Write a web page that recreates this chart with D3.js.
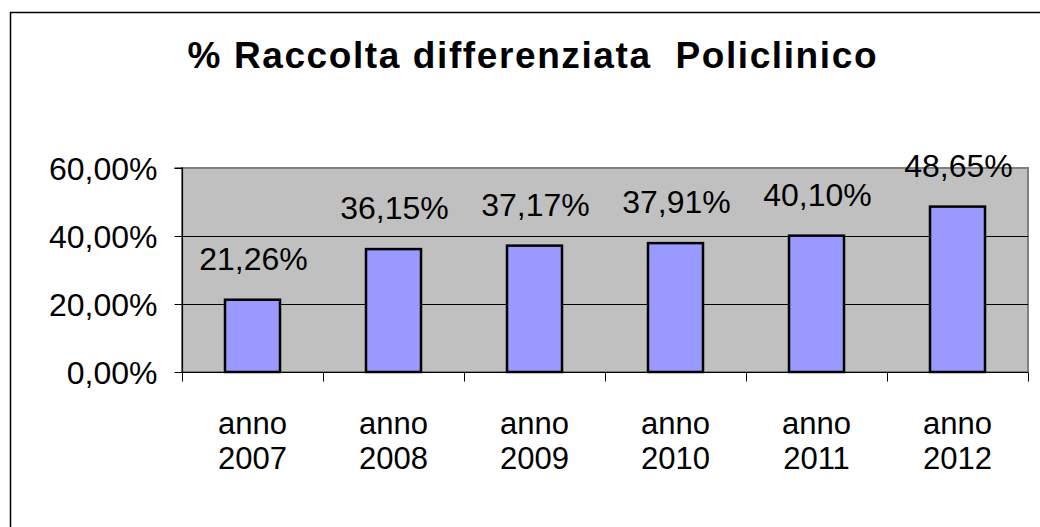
<!DOCTYPE html>
<html>
<head>
<meta charset="utf-8">
<script src="https://cdn.jsdelivr.net/npm/d3@7"></script>
<style>
  html, body { margin: 0; padding: 0; background: #fff; }
  svg { display: block; }
  text { font-family: Arial, "Liberation Sans", sans-serif; fill: #000; }
</style>
</head>
<body>
<svg id="chart" width="1040" height="527"></svg>
<script>
const title = "% Raccolta differenziata  Policlinico";
const categories = [["anno", "2007"], ["anno", "2008"], ["anno", "2009"], ["anno", "2010"], ["anno", "2011"], ["anno", "2012"]];
const values = [21.26, 36.15, 37.17, 37.91, 40.10, 48.65];
const valueLabels = ["21,26%", "36,15%", "37,17%", "37,91%", "40,10%", "48,65%"];
const yTicks = [0, 20, 40, 60];
const yTickLabels = ["0,00%", "20,00%", "40,00%", "60,00%"];

const svg = d3.select("#chart");
const W = 1040, H = 527;
const plot = { left: 182, right: 1028, top: 168, bottom: 372 };

// outer frame
svg.append("rect")
  .attr("x", 10.5).attr("y", 12.5)
  .attr("width", W + 20).attr("height", H + 20)
  .attr("fill", "#fff").attr("stroke", "#000").attr("stroke-width", 1.5);

// title
svg.append("text")
  .attr("x", 532).attr("y", 68)
  .attr("text-anchor", "middle")
  .attr("font-size", 37).attr("font-weight", "bold")
  .style("white-space", "pre")
  .attr("xml:space", "preserve")
  .attr("textLength", 689).attr("lengthAdjust", "spacing")
  .text(title);

const x = d3.scaleBand()
  .domain(d3.range(categories.length))
  .range([plot.left, plot.right])
  .paddingInner(0).paddingOuter(0);
const y = d3.scaleLinear().domain([0, 60]).range([plot.bottom, plot.top]);

// plot area background
svg.append("rect")
  .attr("x", plot.left).attr("y", plot.top)
  .attr("width", plot.right - plot.left).attr("height", plot.bottom - plot.top)
  .attr("fill", "#c0c0c0").attr("stroke", "#808080").attr("stroke-width", 2);

// gridlines
svg.append("g").selectAll("line")
  .data(yTicks.filter(d => d > 0 && d < 60))
  .join("line")
  .attr("x1", plot.left).attr("x2", plot.right)
  .attr("y1", d => Math.round(y(d)) + 0.5).attr("y2", d => Math.round(y(d)) + 0.5)
  .attr("stroke", "#000").attr("stroke-width", 1);

// bars
const bw = 55;
svg.append("g").selectAll("rect")
  .data(values)
  .join("rect")
  .attr("x", (d, i) => x(i) + x.bandwidth() / 2 - bw / 2)
  .attr("y", d => y(d))
  .attr("width", bw)
  .attr("height", d => y(0) - y(d))
  .attr("fill", "#9999ff").attr("stroke", "#000").attr("stroke-width", 2.5);

// y axis
const yAxis = d3.axisLeft(y).tickValues(yTicks).tickSize(8)
  .tickFormat((d, i) => yTickLabels[i]).tickPadding(17);
const gy = svg.append("g").attr("transform", `translate(${plot.left + 0.5},0)`).call(yAxis);
gy.select(".domain").attr("stroke", "#000").attr("stroke-width", 1.2).attr("d", `M-8,${plot.top}H0V${plot.bottom}`);
gy.selectAll(".tick line").attr("stroke", "#000");
gy.selectAll(".tick text")
  .attr("font-size", 32).attr("font-family", "Arial, 'Liberation Sans', sans-serif")
  .attr("fill", "#000").attr("dy", "0.36em");

// x axis
const xAxis = d3.axisBottom(x).tickSize(0).tickFormat("");
const gx = svg.append("g").attr("transform", `translate(0,${plot.bottom + 0.5})`).call(xAxis);
gx.select(".domain").attr("stroke", "#000").attr("stroke-width", 1.2).attr("d", `M${plot.left},0H${plot.right}`);
// category boundary ticks
gx.append("g").selectAll("line")
  .data(d3.range(categories.length + 1))
  .join("line")
  .attr("x1", i => Math.round(i < categories.length ? x(i) : plot.right) + 0.5)
  .attr("x2", i => Math.round(i < categories.length ? x(i) : plot.right) + 0.5)
  .attr("y1", 0).attr("y2", 9)
  .attr("stroke", "#000").attr("stroke-width", 1);

// x labels
const xl = svg.append("g").selectAll("text")
  .data(categories)
  .join("text")
  .attr("text-anchor", "middle")
  .attr("font-size", 31)
  .attr("x", (d, i) => x(i) + x.bandwidth() / 2)
  .attr("y", 434);
xl.append("tspan").attr("x", (d, i) => x(i) + x.bandwidth() / 2).attr("y", 434).text(d => d[0]);
xl.append("tspan").attr("x", (d, i) => x(i) + x.bandwidth() / 2).attr("y", 469).text(d => d[1]);

// data labels
svg.append("g").selectAll("text")
  .data(values)
  .join("text")
  .attr("text-anchor", "middle")
  .attr("font-size", 32)
  .attr("x", (d, i) => x(i) + x.bandwidth() / 2 + 1)
  .attr("y", d => y(d) - 30)
  .text((d, i) => valueLabels[i]);
</script>
</body>
</html>
